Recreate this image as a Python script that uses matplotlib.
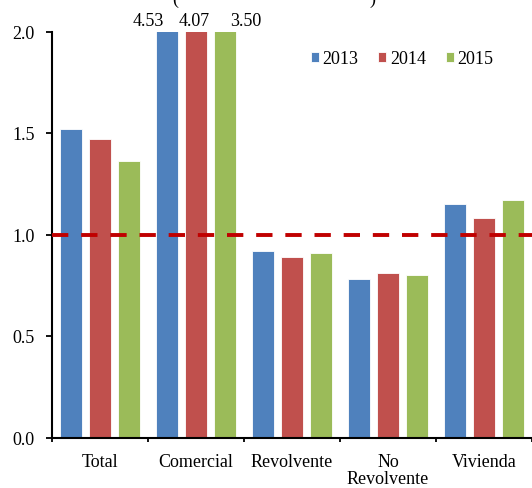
import numpy as np
from matplotlib import pyplot as plt

categories = ['Total', 'Comercial', 'Revolvente', 'No\nRevolvente', 'Vivienda']
years = ['2013', '2014', '2015']
values_2013 = [1.52, 4.53, 0.92, 0.78, 1.15]
values_2014 = [1.47, 4.07, 0.89, 0.81, 1.08]
values_2015 = [1.36, 3.50, 0.91, 0.80, 1.17]
reference_level = 1.0

colors = ['#4F81BD', '#C0504D', '#9BBB59']

plt.rcParams['font.family'] = ['Liberation Serif', 'DejaVu Serif']
plt.rcParams['font.size'] = 13

fig = plt.figure(figsize=(5.32, 4.89), dpi=100)
ax = fig.add_axes([52 / 532, 50.5 / 489, 480 / 532, 406 / 489])

x = np.arange(len(categories))
step = 0.3
width = 0.235
series = [values_2013, values_2014, values_2015]
for i, (vals, year) in enumerate(zip(series, years)):
    ax.bar(x + (i - 1) * step, vals, width, color=colors[i], label=year,
           edgecolor='white', linewidth=0.6, zorder=2)

# valores fuera de escala en Comercial
label_shift = [-0.2, -0.02, 0.22]
for i, vals in enumerate(series):
    ax.text(1 + (i - 1) * step + label_shift[i], 2.053, f'{vals[1]:.2f}',
            ha='center', va='center', clip_on=False)

ax.axhline(reference_level, color='#C00000', linewidth=2.8, dashes=(4.2, 3.3), zorder=3)

# Configure axes
ax.set_xlim(-0.5, len(categories) - 0.5)
ax.set_ylim(0, 2.0)
ax.set_yticks([0.0, 0.5, 1.0, 1.5, 2.0])
ax.set_yticklabels([f'{v:.1f}' for v in [0.0, 0.5, 1.0, 1.5, 2.0]])
ax.tick_params(axis='y', direction='out', length=4.3, width=1.3, pad=8)

ax.set_xticks(np.arange(len(categories) + 1) - 0.5)
ax.set_xticklabels([])
ax.tick_params(axis='x', which='major', direction='out', length=3, width=1.3)
ax.set_xticks(x, minor=True)
ax.set_xticklabels(categories, minor=True, linespacing=1.0)
ax.tick_params(axis='x', which='minor', length=0, pad=11)

for side in ['top', 'right']:
    ax.spines[side].set_visible(False)
for side in ['left', 'bottom']:
    ax.spines[side].set_linewidth(1.5)

ax.legend(loc='center left', bbox_to_anchor=(310.7 / 532, 1 - 60 / 489),
          bbox_transform=fig.transFigure, ncol=3, frameon=False,
          handlelength=0.45, handleheight=0.45, handletextpad=0.2,
          columnspacing=1.1, borderpad=0, borderaxespad=0)

# titulo recortado en el original
fig.text(175 / 532, 1 - 8 / 489, '(', ha='center', va='bottom')
fig.text(372 / 532, 1 - 8 / 489, ')', ha='center', va='bottom')

plt.savefig('out.png', dpi=100)
plt.close()
